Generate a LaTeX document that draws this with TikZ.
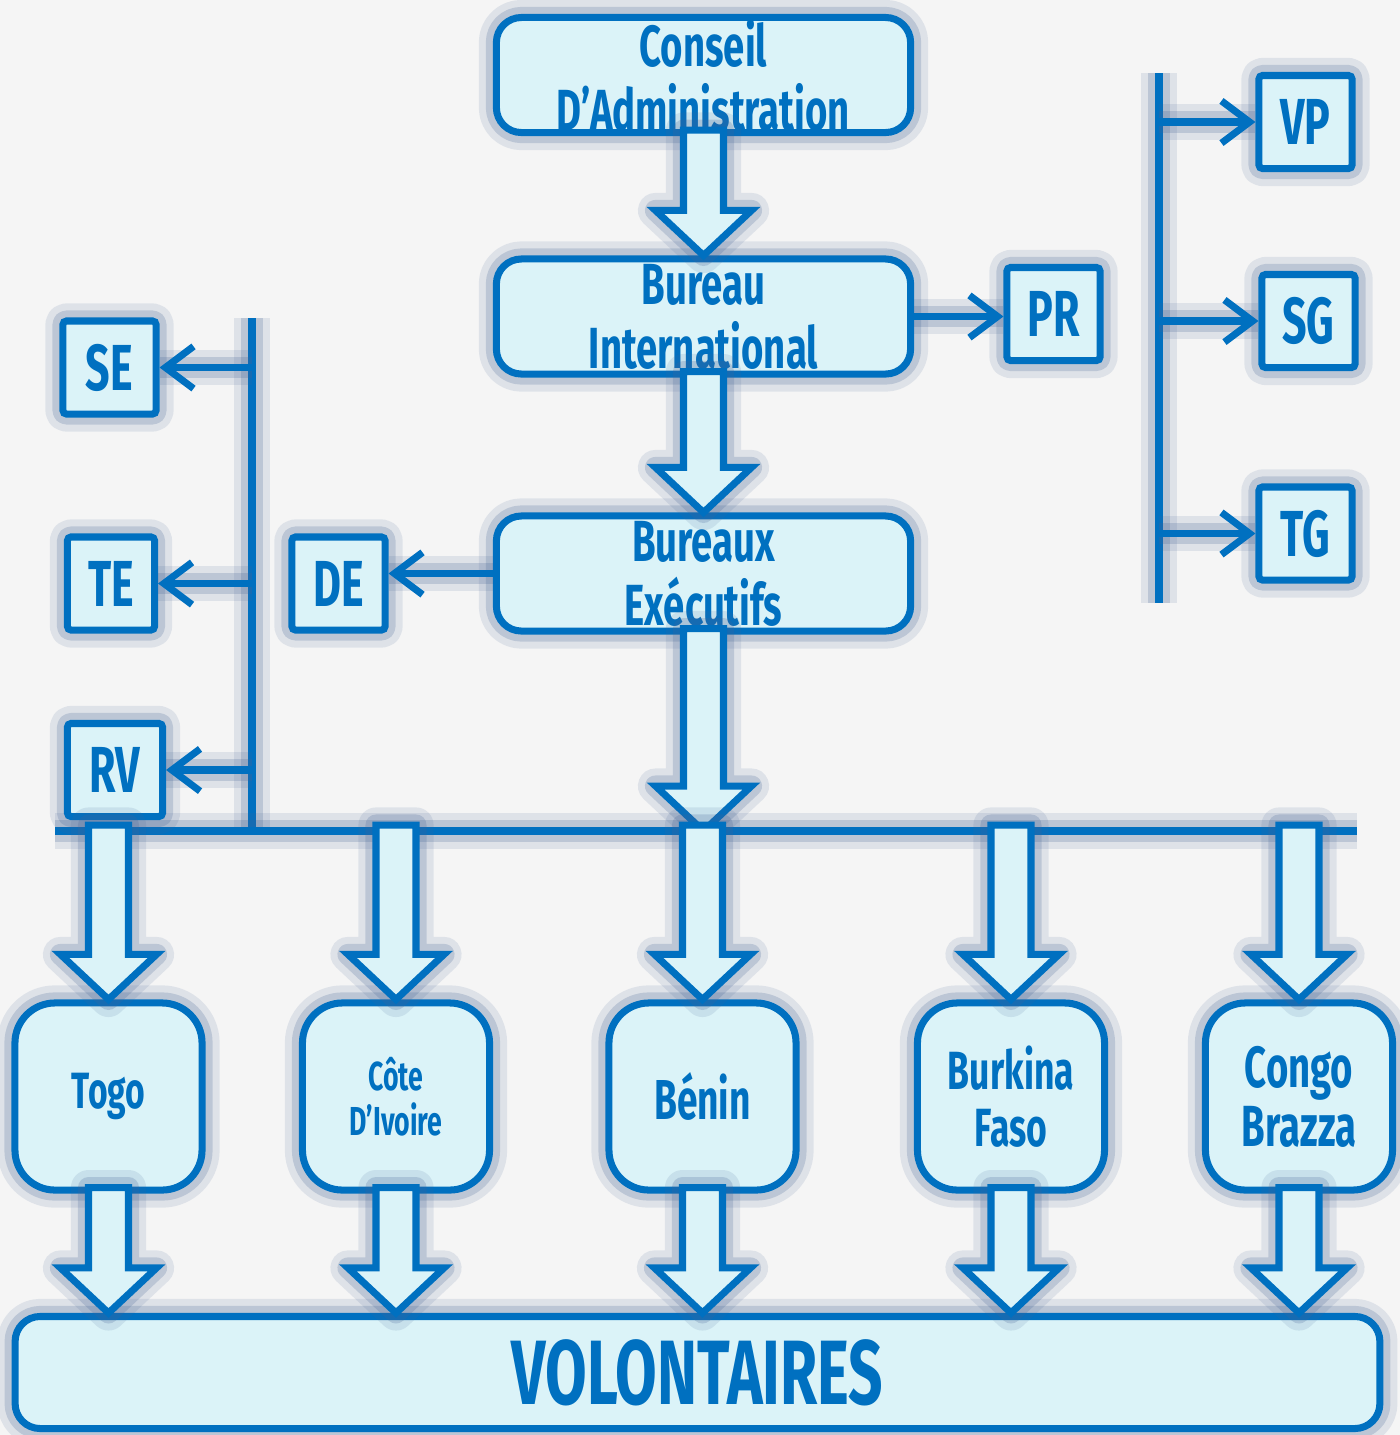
\documentclass[tikz,border=0pt]{standalone}
\usepackage{fontspec}
\setmainfont{Fira Sans}[FakeStretch=0.66]
\usetikzlibrary{calc,arrows.meta}
\definecolor{orgblue}{RGB}{0,112,192}
\definecolor{orgfill}{RGB}{219,243,248}
\definecolor{glowblue}{RGB}{70,100,150}
\definecolor{paper}{RGB}{245,245,245}
\tikzset{
  glow/.style={preaction={draw=glowblue,opacity=.13,line width=10pt,line join=round,arrows=-},
               preaction={draw=glowblue,opacity=.22,line width=6pt,line join=round,arrows=-}},
  main box/.style={rectangle,draw=orgblue,fill=orgfill,line width=2pt,glow,
                   text=orgblue,align=center,inner sep=0pt},
  big node/.style={main box,rounded corners=.25cm,minimum width=4.14cm,minimum height=1.15cm,
                   font=\bfseries\fontsize{16.5}{18.2}\selectfont},
  small node/.style={main box,rounded corners=1pt,minimum width=.93cm,minimum height=.93cm,
                   font=\bfseries\fontsize{18.5}{20}\selectfont},
  pays node/.style={main box,rounded corners=.4cm,minimum width=1.87cm,minimum height=1.87cm},
  bus/.style={draw=orgblue,line width=2.2pt,glow},
  thin arrow/.style={draw=orgblue,line width=2pt,line cap=round,
                     -{Straight Barb[length=8pt,width=12pt]},glow},
  block arrow/.style={draw=orgblue,fill=orgfill,line width=2pt,line join=miter,glow}
}
% big hollow arrow, straight down from #1 to #2
\newcommand{\blockarrow}[2]{%
  \draw[block arrow] ($(#1)+(-20,-6)$) -- ($(#2)+(-20,-45)$) -- ($(#2)+(-48,-45)$) -- (#2)
    -- ($(#2)+(48,-45)$) -- ($(#2)+(20,-45)$) -- ($(#1)+(20,-6)$) -- cycle;}
\begin{document}
\begin{tikzpicture}[x=0.01cm,y=-0.01cm]
\useasboundingbox (0,0) rectangle (1400,1435);
\fill[paper] (0,0) rectangle (1400,1435);

% bus lines
\coordinate (hbusL) at (55,831);
\coordinate (hbusR) at (1357,831);
\coordinate (lbusT) at (252,318);
\coordinate (lbusB) at (252,831);
\coordinate (rbusT) at (1159,73);
\coordinate (rbusB) at (1159,603);
\draw[bus] (lbusT) -- (lbusB);
\draw[bus] (rbusT) -- (rbusB);
\draw[bus] (hbusL) -- (hbusR);

% main column
\node[big node] (conseil) at (703.5,75) {Conseil\\D’Administration};
\node[big node] (bureau) at (703.5,316.5) {Bureau\\International};
\node[big node] (bureaux) at (703.5,573.5) {Bureaux\\Exécutifs};

% small boxes
\node[small node] (pr) at (1053.5,314) {PR};
\node[small node] (de) at (338.5,583.5) {DE};
\node[small node] (se) at (109.5,367.5) {SE};
\node[small node,minimum width=.87cm] (te) at (111,583.5) {TE};
\node[small node,minimum width=.95cm] (rv) at (115,770) {RV};
\node[small node] (vp) at (1305.5,122) {VP};
\node[small node] (sg) at (1308.5,321) {SG};
\node[small node] (tg) at (1305.5,533.5) {TG};

% countries
\node[pays node,font=\bfseries\fontsize{14.5}{15}\selectfont] (togo) at (108.5,1096.5) {Togo};
\node[pays node,font=\bfseries\fontsize{11.5}{12.8}\selectfont] (cote) at (396,1096.5) {Côte\\D’Ivoire};
\node[pays node,font=\bfseries\fontsize{16}{17}\selectfont] (benin) at (702.5,1096.5) {Bénin};
\node[pays node,font=\bfseries\fontsize{15.3}{16.4}\selectfont] (burkina) at (1011,1096.5) {Burkina\\Faso};
\node[pays node,font=\bfseries\fontsize{16.5}{16.8}\selectfont] (congo) at (1299,1096.5) {Congo\\Brazza};

\node[main box,rounded corners=.25cm,minimum width=13.64cm,minimum height=1.12cm,
      font=\bfseries\fontsize{26}{28}\selectfont] (volontaires) at (697.5,1372.5) {VOLONTAIRES};

% hollow arrows
\blockarrow{conseil.south}{bureau.north}
\blockarrow{bureau.south}{bureaux.north}
\blockarrow{bureaux.south}{bureaux.south |- hbusL}
\foreach \p in {togo,cote,benin,burkina,congo}{
  \blockarrow{\p.north |- hbusL}{\p.north}
  \blockarrow{\p.south}{\p.south |- volontaires.north}
}

% thin arrows
\draw[thin arrow] (bureau.east) -- (bureau.east -| pr.west);
\draw[thin arrow] (bureaux.west) -- (bureaux.west -| de.east);
\draw[thin arrow] (lbusT |- se.east) -- (se.east);
\draw[thin arrow] (lbusT |- te.east) -- (te.east);
\draw[thin arrow] (lbusT |- rv.east) -- (rv.east);
\draw[thin arrow] (rbusT |- vp.west) -- (vp.west);
\draw[thin arrow] (rbusT |- sg.west) -- (sg.west);
\draw[thin arrow] (rbusT |- tg.west) -- (tg.west);
\end{tikzpicture}
\end{document}
